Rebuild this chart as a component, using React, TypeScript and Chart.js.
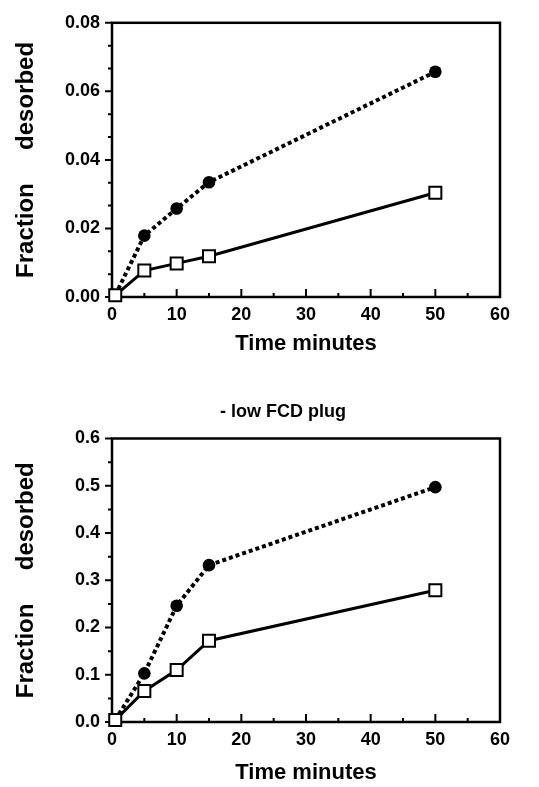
import React, { useEffect, useRef } from "react";
import { Chart, registerables } from "chart.js";

Chart.register(...registerables);

const FONT = '"Liberation Sans", Arial, Helvetica, sans-serif';

// ---- data ----
const timeMinutes = [0.5, 5, 10, 15, 50];
const topCircle = [0.0005, 0.0179, 0.0258, 0.0335, 0.0657];
const topSquare = [0.0005, 0.0077, 0.0098, 0.0119, 0.0304];
const bottomCircle = [0.004, 0.103, 0.246, 0.332, 0.497];
const bottomSquare = [0.004, 0.0656, 0.11, 0.172, 0.279];

const xLabelTicks = [0, 10, 20, 30, 40, 50, 60];
const xMarkTicks = [0, 5, 10, 15, 20, 25, 30, 35, 40, 45, 50, 55, 60];
const topYTicks = [0, 0.02, 0.04, 0.06, 0.08];
const bottomYTicks = [0, 0.1, 0.2, 0.3, 0.4, 0.5, 0.6];
const topYMinorSteps = 3;
const bottomYMinorSteps = 2;

const xTitle = "Time minutes";
const yTitle = "Fraction     desorbed";
const bottomTitle = "- low FCD plug";

const framePlugin = {
  id: "frame",
  beforeDatasetsDraw(chart: any, _args: any, opts: any) {
    const { ctx, chartArea: a, scales } = chart;
    ctx.save();
    ctx.strokeStyle = "#000";
    ctx.lineWidth = 2.5;
    ctx.strokeRect(a.left, a.top, a.right - a.left, a.bottom - a.top);
    ctx.lineWidth = 2;
    ctx.beginPath();
    (opts.xMarks || []).forEach((v: number) => {
      const px = scales.x.getPixelForValue(v);
      const len = v % 10 === 0 ? 8 : 4;
      ctx.moveTo(px, a.bottom);
      ctx.lineTo(px, a.bottom - len);
    });
    const yt: number[] = opts.yTicks || [];
    const n: number = opts.minorSteps || 1;
    yt.forEach((v, i) => {
      const py = scales.y.getPixelForValue(v);
      ctx.moveTo(a.left, py);
      ctx.lineTo(a.left - 7, py);
      if (i < yt.length - 1) {
        for (let k = 1; k < n; k++) {
          const mv = v + ((yt[i + 1] - v) * k) / n;
          const mp = scales.y.getPixelForValue(mv);
          ctx.moveTo(a.left, mp);
          ctx.lineTo(a.left - 4, mp);
        }
      }
    });
    ctx.stroke();
    ctx.restore();
  },
};

type PanelProps = {
  height: number;
  circle: number[];
  square: number[];
  yTicks: number[];
  yMax: number;
  decimals: number;
  minorSteps: number;
  xAxisHeight: number;
  xTitlePadBottom: number;
  topPad: number;
  leftPad: number;
  title?: string;
};

function Panel(p: PanelProps) {
  const ref = useRef<HTMLCanvasElement | null>(null);
  useEffect(() => {
    if (!ref.current) return;
    const chartLeft = 112;
    const chart = new Chart(ref.current, {
      type: "line",
      data: {
        datasets: [
          {
            data: timeMinutes.map((x, i) => ({ x, y: p.square[i] })),
            borderColor: "#000",
            borderWidth: 3,
            pointStyle: "rect",
            pointRadius: 8.5,
            pointBackgroundColor: "#fff",
            pointBorderColor: "#000",
            pointBorderWidth: 2,
            tension: 0,
            clip: false as any,
          },
          {
            data: timeMinutes.map((x, i) => ({ x, y: p.circle[i] })),
            borderColor: "#000",
            borderWidth: 4,
            borderDash: [4, 3],
            pointStyle: "circle",
            pointRadius: [0, 6.3, 6.3, 6.3, 6.3],
            pointBackgroundColor: "#000",
            pointBorderColor: "#000",
            pointBorderWidth: 0,
            tension: 0,
            clip: false as any,
          },
        ],
      },
      options: {
        animation: false,
        responsive: false,
        events: [],
        layout: { padding: { left: p.leftPad, right: 0, top: p.topPad, bottom: 0 } },
        plugins: {
          legend: { display: false },
          tooltip: { enabled: false },
          title: p.title
            ? {
                display: true,
                text: p.title,
                color: "#000",
                font: { family: FONT, size: 18, weight: "bold", lineHeight: 1.2 },
                padding: { top: 41, bottom: 15.9 },
              }
            : { display: false },
          frame: { xMarks: xMarkTicks, yTicks: p.yTicks, minorSteps: p.minorSteps },
        } as any,
        scales: {
          x: {
            type: "linear",
            min: 0,
            max: 60,
            grid: { display: false, drawTicks: false },
            border: { display: false },
            afterBuildTicks: (s: any) => {
              s.ticks = xLabelTicks.map((v) => ({ value: v }));
            },
            afterFit: (s: any) => {
              s.height = p.xAxisHeight;
            },
            ticks: {
              color: "#000",
              padding: 7,
              maxRotation: 0,
              font: { family: FONT, size: 18, weight: "bold" },
              callback: (v: any) => String(v),
            },
            title: {
              display: true,
              text: xTitle,
              color: "#000",
              font: { family: FONT, size: 22, weight: "bold", lineHeight: 1 },
              padding: { top: 0, bottom: p.xTitlePadBottom },
            },
          },
          y: {
            type: "linear",
            min: 0,
            max: p.yMax,
            grid: { display: false, drawTicks: false },
            border: { display: false },
            afterBuildTicks: (s: any) => {
              s.ticks = p.yTicks.map((v) => ({ value: v }));
            },
            afterFit: (s: any) => {
              s.width = chartLeft - p.leftPad;
            },
            ticks: {
              color: "#000",
              padding: 12,
              font: { family: FONT, size: 18, weight: "bold" },
              callback: (v: any) => Number(v).toFixed(p.decimals),
            },
            title: {
              display: true,
              text: yTitle,
              color: "#000",
              font: { family: FONT, size: 24, weight: "bold", lineHeight: 1 },
              padding: { top: 14 - p.leftPad, bottom: 0 },
            },
          },
          yR: {
            type: "linear",
            position: "right",
            display: true,
            grid: { display: false, drawTicks: false },
            border: { display: false },
            ticks: { display: false },
            afterFit: (s: any) => {
              s.width = 39;
            },
          },
        },
      },
      plugins: [framePlugin],
    });
    return () => chart.destroy();
  }, []);
  return <canvas ref={ref} width={539} height={p.height} style={{ display: "block", width: 539, height: p.height }} />;
}

export default function App() {
  return (
    <div style={{ position: "absolute", top: 0, left: 0, width: 539, background: "#fff" }}>
      <Panel
        height={360}
        circle={topCircle}
        square={topSquare}
        yTicks={topYTicks}
        yMax={0.08}
        decimals={2}
        minorSteps={topYMinorSteps}
        xAxisHeight={63}
        xTitlePadBottom={5}
        topPad={15}
        leftPad={15}
      />
      <Panel
        height={427}
        circle={bottomCircle}
        square={bottomSquare}
        yTicks={bottomYTicks}
        yMax={0.6}
        decimals={1}
        minorSteps={bottomYMinorSteps}
        xAxisHeight={65}
        xTitlePadBottom={3}
        topPad={0}
        leftPad={27}
        title={bottomTitle}
      />
    </div>
  );
}
